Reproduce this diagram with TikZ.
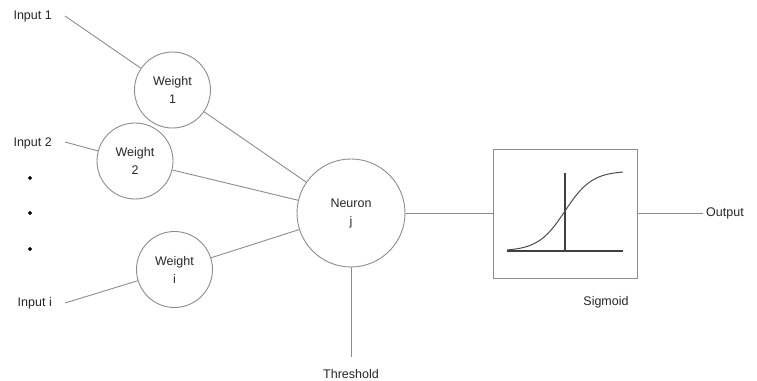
\documentclass[tikz,border=0pt]{standalone}
\usepackage{fontspec}
\setmainfont{Liberation Sans}
\usetikzlibrary{shapes.geometric}
\begin{document}
\begin{tikzpicture}[x=1pt,y=1pt,
  txt/.style={font=\fontsize{12.5}{18}\selectfont, text=black!85, inner sep=1pt},
  wcirc/.style={circle, draw=black!45, line width=0.9pt, minimum size=76pt, inner sep=0pt, align=center, font=\fontsize{12.5}{18}\selectfont, text=black!85},
  conn/.style={draw=black!45, line width=0.9pt},
  dark/.style={draw=black!75, line width=1.2pt}]
\useasboundingbox (0,0) rectangle (757,380);
% inputs
\node[txt, anchor=east] (in1) at (53,363) {Input 1};
\node[txt, anchor=east] (in2) at (53,237) {Input 2};
\node[txt, anchor=east] (ini) at (53,77) {Input i};
\coordinate (c1) at (65,364);
\coordinate (c2) at (65,238);
\coordinate (ci) at (65,77);
\foreach \yy/\nm in {202/d1,167/d2,131/d3}
  \node[diamond, fill=black, inner sep=0pt, minimum size=4.6pt] (\nm) at (30,\yy) {};
% weights
\node[wcirc] (w1) at (172.5,290) {Weight\\1};
\node[wcirc] (w2) at (135,219) {Weight\\2};
\node[wcirc] (wi) at (174.5,110.5) {Weight\\i};
% neuron
\node[wcirc, minimum size=108pt] (n) at (351,167) {Neuron\\j};
% connectors
\draw[conn] (c1) -- (w1);
\draw[conn] (c2) -- (w2);
\draw[conn] (ci) -- (wi);
\draw[conn] (w1) -- (n);
\draw[conn] (w2) -- (n);
\draw[conn] (wi) -- (n);
% threshold
\coordinate (th) at (351,23);
\draw[conn] (n.south) -- (th);
\node[txt] (tht) at (351,6) {Threshold};
% sigmoid box
\node[draw=black!45, line width=0.9pt, minimum width=144pt, minimum height=129pt, inner sep=0pt] (box) at (565,166.5) {};
\draw[conn] (n.east) -- (box.west |- n.east);
\coordinate (out) at (703,167);
\draw[conn] (box.east |- out) -- (out);
\node[txt, anchor=west] (outt) at (705,167) {Output};
\node[txt] (sig) at (606,78) {Sigmoid};
% sigmoid graph
\coordinate (ax0) at (507,129);
\coordinate (ax1) at (623,129);
\coordinate (vx0) at (565,129);
\coordinate (vx1) at (565,207);
\draw[dark] (ax0) -- (ax1);
\draw[dark] (vx0) -- (vx1);
\draw[draw=black!70, line width=1pt] plot[domain=507:623, samples=80, smooth] (\x, {129+80/(1+exp(-(\x-565)/13.5))});
\end{tikzpicture}
\end{document}
